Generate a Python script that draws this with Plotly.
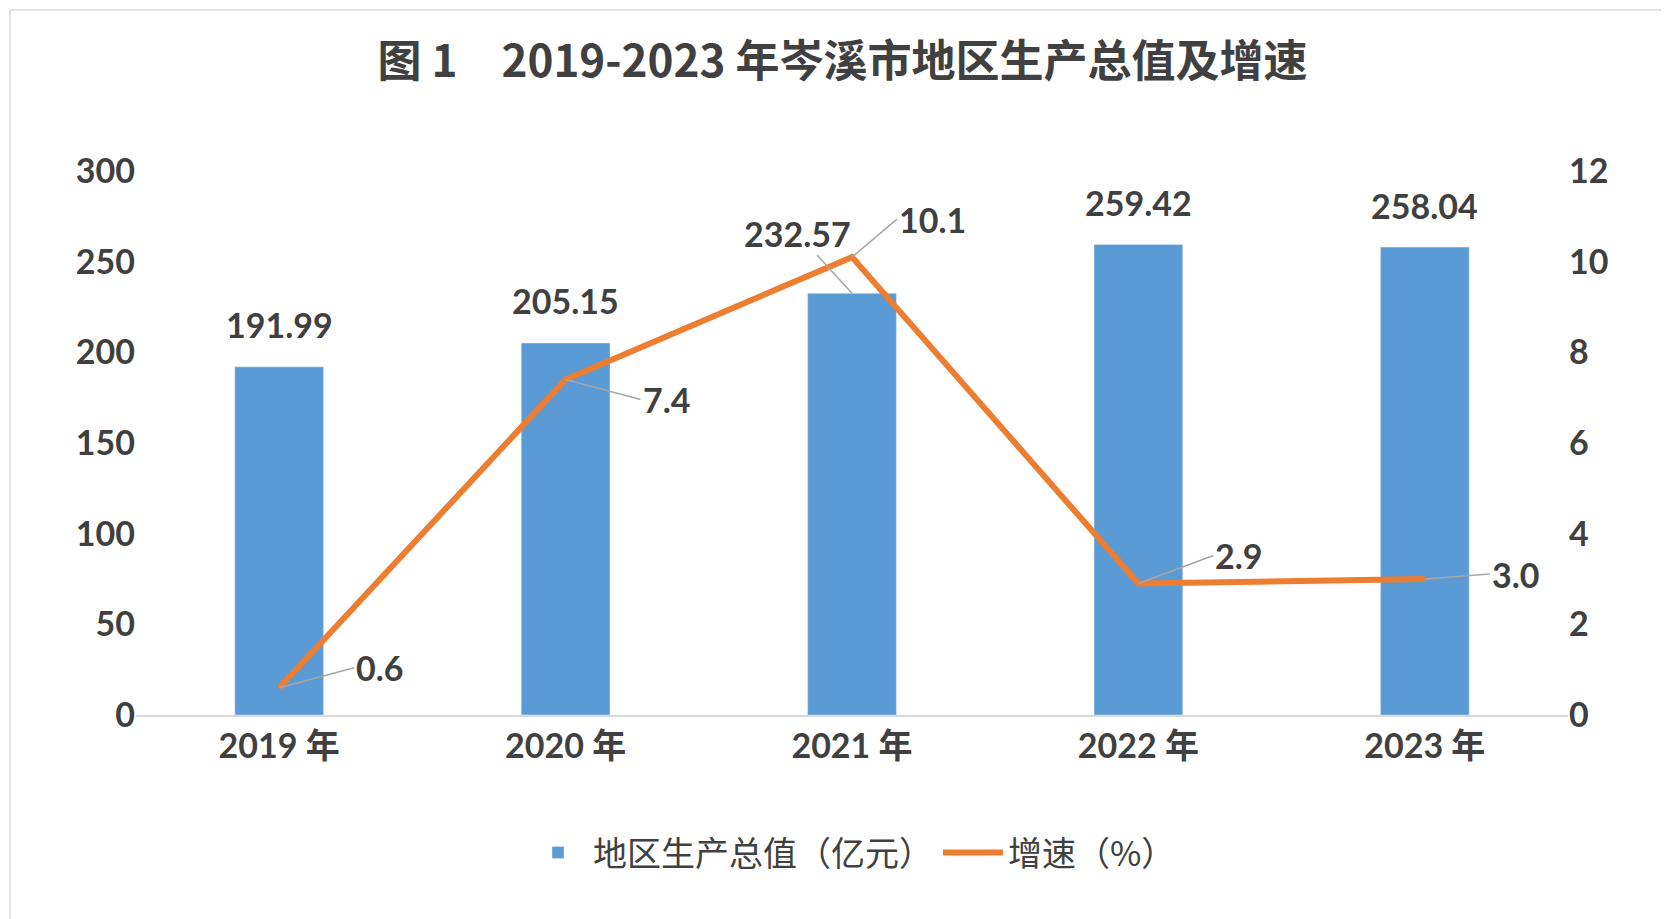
import plotly.graph_objects as go

years = ["2019 年", "2020 年", "2021 年", "2022 年", "2023 年"]
gdp = [191.99, 205.15, 232.57, 259.42, 258.04]
growth = [0.6, 7.4, 10.1, 2.9, 3.0]
gdp_text = ["191.99", "205.15", "232.57", "259.42", "258.04"]
growth_text = ["0.6", "7.4", "10.1", "2.9", "3.0"]

txt = "#404040"
num_font = dict(family="Lato, Open Sans, sans-serif", size=34, color=txt, weight="bold")

fig = go.Figure()
fig.add_trace(go.Bar(x=years, y=gdp, name="地区生产总值（亿元）", marker_color="#5B9BD5",
                     width=0.31, yaxis="y"))
fig.add_trace(go.Scatter(x=years, y=growth, name="增速（%）", mode="lines",
                         line=dict(color="#ED7D31", width=6), yaxis="y2"))

anns = []
# bar labels
for i, (x, v, t) in enumerate(zip(years, gdp, gdp_text)):
    if i == 2:
        anns.append(dict(x=x, y=v, xref="x", yref="y", text=t, showarrow=True, arrowhead=0,
                         arrowcolor="#A6A6A6", arrowwidth=1.5, ax=-55, ay=-60, font=num_font))
    else:
        anns.append(dict(x=x, y=v, xref="x", yref="y", text=t, showarrow=False, yshift=42,
                         font=num_font))
# growth labels with leader lines
offs = [(75, -20), (75, 20), (45, -38), (75, -28), (65, -5)]
for x, v, t, (ax, ay) in zip(years, growth, growth_text, offs):
    anns.append(dict(x=x, y=v, xref="x", yref="y2", text=t, showarrow=True, arrowhead=0,
                     arrowcolor="#A6A6A6", arrowwidth=1.5, ax=ax, ay=ay, font=num_font,
                     xanchor="left"))

fig.update_layout(
    width=1669, height=919,
    paper_bgcolor="white", plot_bgcolor="white",
    margin=dict(l=128, r=109, t=163, b=212),
    title=dict(text="图 1　2019-2023 年岑溪市地区生产总值及增速", x=0.5, y=0.958,
               xanchor="center",
               font=dict(family="Noto Sans CJK SC", size=44, color=txt, weight="bold")),
    bargap=0.69,
    xaxis=dict(showline=True, linecolor="#D9D9D9", linewidth=1.5, ticks="",
               tickfont=dict(family="Lato, Noto Sans CJK SC", size=34, color=txt, weight="bold")),
    yaxis=dict(range=[0, 300], dtick=50, showgrid=False, zeroline=False,
               tickfont=dict(family="Lato, sans-serif", size=34, color=txt, weight="bold")),
    yaxis2=dict(range=[0, 12], dtick=2, overlaying="y", side="right", showgrid=False,
                zeroline=False,
                tickfont=dict(family="Lato, sans-serif", size=34, color=txt, weight="bold")),
    legend=dict(orientation="h", x=0.5, xanchor="center", y=-0.2, yanchor="top",
                itemwidth=60,
                font=dict(family="Noto Sans CJK SC", size=34, color=txt)),
    annotations=anns,
    shapes=[dict(type="rect", xref="paper", yref="paper", x0=-0.0880, x1=1.0740,
                 y0=-0.385, y1=1.296, line=dict(color="#D9D9D9", width=1.5))],
)
fig.write_html("out.html")
